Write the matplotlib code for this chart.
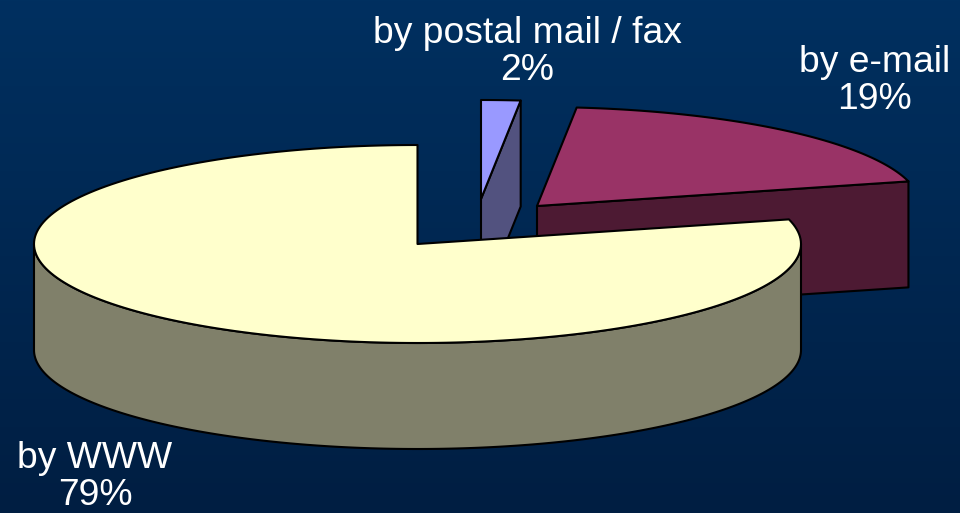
import numpy as np
import matplotlib
matplotlib.use('Agg')
import matplotlib.pyplot as plt
from matplotlib.colors import LinearSegmentedColormap
from matplotlib.patches import Polygon

plt.rcParams['font.family'] = ['Liberation Sans', 'DejaVu Sans']

# chart values, clockwise from 12 o'clock
names = ['by postal mail / fax', 'by e-mail', 'by WWW']
shares = [1.65, 19.35, 79.0]
share_labels = ['2%', '19%', '79%']

top_colors = ['#9999ff', '#993366', '#ffffcc']
side_colors = ['#52527f', '#4d1a33', '#80806a']
centers = [(481, 199), (537, 206), (417.5, 244)]
label_pos = [(527, 52), (875, 81), (95, 477)]

RX, RY = 383.5, 99
DEPTH = 106
LW = 1.5


def arc(cx, cy, a0, a1):
    # angles in degrees, clockwise from the top of the ellipse
    t = np.radians(np.linspace(a0, a1, 200))
    return np.column_stack([cx + RX * np.sin(t), cy - RY * np.cos(t)])


def add_poly(ax, pts, color, z):
    ax.add_patch(Polygon(pts, closed=True, facecolor=color, edgecolor='black',
                         linewidth=LW, joinstyle='round', zorder=z))


fig = plt.figure(figsize=(9.6, 5.13), dpi=100)
ax = fig.add_axes([0, 0, 1, 1])
ax.set_xlim(0, 960)
ax.set_ylim(513, 0)
ax.axis('off')

# background gradient
bg = LinearSegmentedColormap.from_list('bg', ['#003060', '#001e42'])
ax.imshow(np.linspace(0, 1, 256).reshape(-1, 1), cmap=bg, aspect='auto',
          extent=[0, 960, 513, 0], zorder=0)

edges = np.concatenate([[0], np.cumsum(shares)]) * 3.6

for i in range(3):
    cx, cy = centers[i]
    a0, a1 = edges[i], edges[i + 1]
    z = 2 + i
    rim = arc(cx, cy, a0, a1)
    down = np.array([0, DEPTH])

    # outer wall, only the part facing the viewer (90..270 deg)
    w0, w1 = max(a0, 90), min(a1, 270)
    if w0 < w1:
        wall = arc(cx, cy, w0, w1)
        add_poly(ax, np.vstack([wall, (wall + down)[::-1]]), side_colors[i], z)

    # cut face on the clockwise end of the slice
    if a1 < 180:
        apex = np.array([cx, cy])
        add_poly(ax, [apex, rim[-1], rim[-1] + down, apex + down], side_colors[i], z)

    # top surface
    add_poly(ax, np.vstack([[cx, cy], rim]), top_colors[i], z)

    tx, ty = label_pos[i]
    ax.text(tx, ty, names[i] + '\n' + share_labels[i], color='white', fontsize=26.8,
            ha='center', va='center', linespacing=1.09, zorder=10)

fig.savefig('out.png', dpi=100)
